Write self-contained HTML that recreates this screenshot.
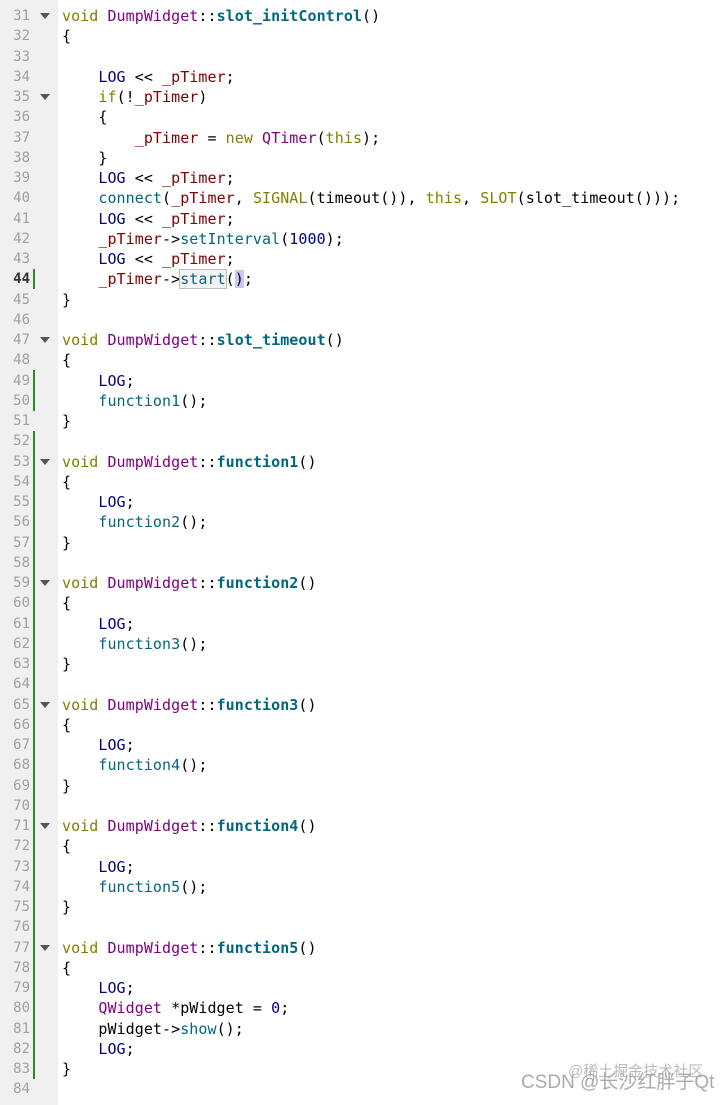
<!DOCTYPE html>
<html><head><meta charset="utf-8"><style>
html,body{margin:0;padding:0;width:727px;height:1105px;overflow:hidden;background:#fff;position:relative}
#g{position:absolute;left:0;top:0;width:58px;height:1105px;background:#f0f0f0}
.l{position:absolute;left:0;height:20.25px;line-height:20.25px;font-family:"DejaVu Sans Mono","Liberation Mono",monospace;font-size:15px;white-space:pre;width:727px}
.n{position:absolute;left:0;top:0;width:30px;text-align:right;color:#a0a0a0;font-size:14px}
.c{position:absolute;left:62px;top:0;color:#000;letter-spacing:0.06px}
.f{position:absolute;left:40px;top:7px;width:0;height:0;border-left:5px solid transparent;border-right:5px solid transparent;border-top:6px solid #555}
.b{position:absolute;left:33px;width:2px;background:#2a8a2a}
.k{color:#808000}.p{color:#800080}.fn{color:#00677c;font-weight:bold}.t{color:#00677c}.v{color:#800000}.m{color:#000080}
#wm{position:absolute;left:521px;top:1067px;font-family:"Liberation Sans","Noto Sans CJK SC",sans-serif;font-size:19px;color:#aaa;white-space:nowrap}
#wm2{position:absolute;left:568px;top:1060px;font-family:"Liberation Sans","Noto Sans CJK SC",sans-serif;font-size:15px;color:#bbb;white-space:nowrap}
</style></head><body>
<div id="g"></div>
<div class="b" style="top:269px;height:20px"></div>
<div class="b" style="top:370px;height:41px"></div>
<div class="b" style="top:431px;height:648px"></div>

<div class="l" style="top:-14.25px"><span class="n">30</span></div>
<div class="l" style="top:6px"><span class="n">31</span><span class="f"></span><span class="c"><span class="k">void</span> <span class="p">DumpWidget</span>::<span class="fn">slot_initControl</span>()</span></div>
<div class="l" style="top:26.25px"><span class="n">32</span><span class="c">{</span></div>
<div class="l" style="top:46.5px"><span class="n">33</span></div>
<div class="l" style="top:66.75px"><span class="n">34</span><span class="c">    <span class="m">LOG</span> &lt;&lt; <span class="v">_pTimer</span>;</span></div>
<div class="l" style="top:87px"><span class="n">35</span><span class="f"></span><span class="c">    <span class="k">if</span>(!<span class="v">_pTimer</span>)</span></div>
<div class="l" style="top:107.25px"><span class="n">36</span><span class="c">    {</span></div>
<div class="l" style="top:127.5px"><span class="n">37</span><span class="c">        <span class="v">_pTimer</span> = <span class="k">new</span> <span class="p">QTimer</span>(<span class="k">this</span>);</span></div>
<div class="l" style="top:147.75px"><span class="n">38</span><span class="c">    }</span></div>
<div class="l" style="top:168px"><span class="n">39</span><span class="c">    <span class="m">LOG</span> &lt;&lt; <span class="v">_pTimer</span>;</span></div>
<div class="l" style="top:188.25px"><span class="n">40</span><span class="c">    <span class="t">connect</span>(<span class="v">_pTimer</span>, <span class="k">SIGNAL</span>(timeout()), <span class="k">this</span>, <span class="k">SLOT</span>(slot_timeout()));</span></div>
<div class="l" style="top:208.5px"><span class="n">41</span><span class="c">    <span class="m">LOG</span> &lt;&lt; <span class="v">_pTimer</span>;</span></div>
<div class="l" style="top:228.75px"><span class="n">42</span><span class="c">    <span class="v">_pTimer</span>-&gt;<span class="t">setInterval</span>(<span class="m">1000</span>);</span></div>
<div class="l" style="top:249px"><span class="n">43</span><span class="c">    <span class="m">LOG</span> &lt;&lt; <span class="v">_pTimer</span>;</span></div>
<div class="l" style="top:269.25px"><span class="n" style="color:#333;font-weight:bold">44</span><span class="c">    <span class="v">_pTimer</span>-&gt;<span class="t" style="outline:1px solid #bbb;background:#f4f4f4">start</span>(<span style="background:#c8c8f8">)</span>;</span></div>
<div class="l" style="top:289.5px"><span class="n">45</span><span class="c">}</span></div>
<div class="l" style="top:309.75px"><span class="n">46</span></div>
<div class="l" style="top:330px"><span class="n">47</span><span class="f"></span><span class="c"><span class="k">void</span> <span class="p">DumpWidget</span>::<span class="fn">slot_timeout</span>()</span></div>
<div class="l" style="top:350.25px"><span class="n">48</span><span class="c">{</span></div>
<div class="l" style="top:370.5px"><span class="n">49</span><span class="c">    <span class="m">LOG</span>;</span></div>
<div class="l" style="top:390.75px"><span class="n">50</span><span class="c">    <span class="t">function1</span>();</span></div>
<div class="l" style="top:411px"><span class="n">51</span><span class="c">}</span></div>
<div class="l" style="top:431.25px"><span class="n">52</span></div>

<div class="l" style="top:451.5px"><span class="n">53</span><span class="f"></span><span class="c"><span class="k">void</span> <span class="p">DumpWidget</span>::<span class="fn">function1</span>()</span></div>
<div class="l" style="top:471.75px"><span class="n">54</span><span class="c">{</span></div>
<div class="l" style="top:492px"><span class="n">55</span><span class="c">    <span class="m">LOG</span>;</span></div>
<div class="l" style="top:512.25px"><span class="n">56</span><span class="c">    <span class="t">function2</span>();</span></div>
<div class="l" style="top:532.5px"><span class="n">57</span><span class="c">}</span></div>
<div class="l" style="top:552.75px"><span class="n">58</span></div>

<div class="l" style="top:573px"><span class="n">59</span><span class="f"></span><span class="c"><span class="k">void</span> <span class="p">DumpWidget</span>::<span class="fn">function2</span>()</span></div>
<div class="l" style="top:593.25px"><span class="n">60</span><span class="c">{</span></div>
<div class="l" style="top:613.5px"><span class="n">61</span><span class="c">    <span class="m">LOG</span>;</span></div>
<div class="l" style="top:633.75px"><span class="n">62</span><span class="c">    <span class="t">function3</span>();</span></div>
<div class="l" style="top:654px"><span class="n">63</span><span class="c">}</span></div>
<div class="l" style="top:674.25px"><span class="n">64</span></div>

<div class="l" style="top:694.5px"><span class="n">65</span><span class="f"></span><span class="c"><span class="k">void</span> <span class="p">DumpWidget</span>::<span class="fn">function3</span>()</span></div>
<div class="l" style="top:714.75px"><span class="n">66</span><span class="c">{</span></div>
<div class="l" style="top:735px"><span class="n">67</span><span class="c">    <span class="m">LOG</span>;</span></div>
<div class="l" style="top:755.25px"><span class="n">68</span><span class="c">    <span class="t">function4</span>();</span></div>
<div class="l" style="top:775.5px"><span class="n">69</span><span class="c">}</span></div>
<div class="l" style="top:795.75px"><span class="n">70</span></div>

<div class="l" style="top:816px"><span class="n">71</span><span class="f"></span><span class="c"><span class="k">void</span> <span class="p">DumpWidget</span>::<span class="fn">function4</span>()</span></div>
<div class="l" style="top:836.25px"><span class="n">72</span><span class="c">{</span></div>
<div class="l" style="top:856.5px"><span class="n">73</span><span class="c">    <span class="m">LOG</span>;</span></div>
<div class="l" style="top:876.75px"><span class="n">74</span><span class="c">    <span class="t">function5</span>();</span></div>
<div class="l" style="top:897px"><span class="n">75</span><span class="c">}</span></div>
<div class="l" style="top:917.25px"><span class="n">76</span></div>

<div class="l" style="top:937.5px"><span class="n">77</span><span class="f"></span><span class="c"><span class="k">void</span> <span class="p">DumpWidget</span>::<span class="fn">function5</span>()</span></div>
<div class="l" style="top:957.75px"><span class="n">78</span><span class="c">{</span></div>
<div class="l" style="top:978px"><span class="n">79</span><span class="c">    <span class="m">LOG</span>;</span></div>
<div class="l" style="top:998.25px"><span class="n">80</span><span class="c">    <span class="p">QWidget</span> *pWidget = <span class="m">0</span>;</span></div>
<div class="l" style="top:1018.5px"><span class="n">81</span><span class="c">    pWidget-&gt;<span class="t">show</span>();</span></div>
<div class="l" style="top:1038.75px"><span class="n">82</span><span class="c">    <span class="m">LOG</span>;</span></div>
<div class="l" style="top:1059px"><span class="n">83</span><span class="c">}</span></div>
<div class="l" style="top:1079.25px"><span class="n">84</span></div>

<div id="wm2">@稀土掘金技术社区</div>
<div id="wm">CSDN @长沙红胖子Qt</div>
</body></html>
